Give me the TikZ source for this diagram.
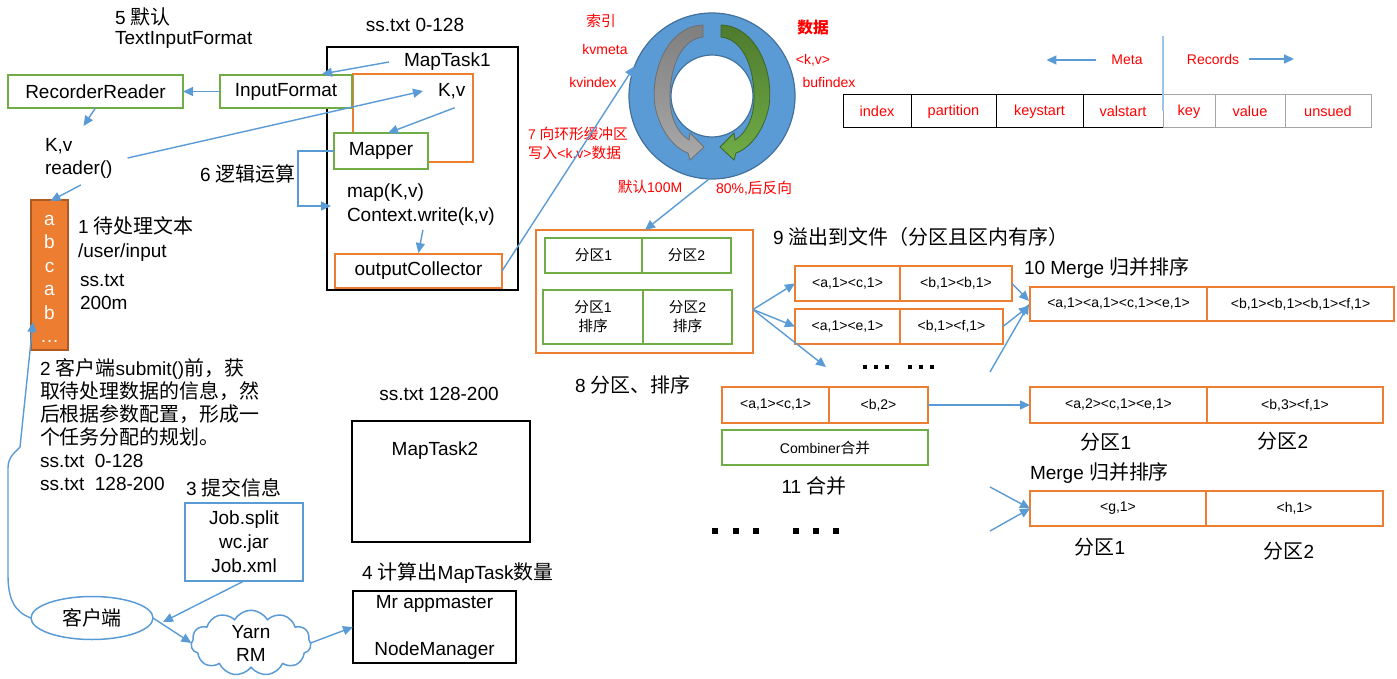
\documentclass[tikz,border=0pt]{standalone}
\usepackage{fontspec}
\setmainfont{Liberation Sans}
\newfontfamily\cjk[Scale=1.05]{Noto Sans CJK SC}
\newcommand\cj[1]{{\cjk #1}}
\usetikzlibrary{arrows.meta,shapes.geometric,shapes.symbols,calc}
\definecolor{ablue}{HTML}{5B9BD5}
\definecolor{ogreen}{HTML}{70AD47}
\definecolor{oorange}{HTML}{ED7D31}
\definecolor{colborder}{HTML}{AE5A21}
\definecolor{ringblue}{HTML}{5B9BD5}
\definecolor{ringedge}{HTML}{41719C}
\definecolor{garrtop}{HTML}{7F7F7F}
\definecolor{garrbot}{HTML}{A9A9A9}
\definecolor{garredge}{HTML}{6E6E6E}
\definecolor{grtop}{HTML}{4E7A2E}
\definecolor{grbot}{HTML}{70AD47}
\definecolor{gredge}{HTML}{3E6424}
\definecolor{vline}{HTML}{9DC3E6}
\tikzset{
 every node/.style={inner sep=0pt, outer sep=0pt},
 big/.style={font=\fontsize{19}{23}\selectfont},
 sm/.style={font=\fontsize{14}{19}\selectfont},
 redtxt/.style={text=red, font=\fontsize{14}{19}\selectfont},
 bx/.style={anchor=north west, line width=1.8pt, fill=white},
 gbox/.style={bx, draw=ogreen},
 obox/.style={bx, draw=oorange},
 kbox/.style={bx, draw=black},
 bbox/.style={bx, draw=ablue},
 arr/.style={draw=ablue, line width=1.4pt, -{Triangle[length=10pt,width=9pt]}},
 cellk/.style={anchor=north west, draw=black, line width=1pt, text=red, font=\fontsize{14.5}{17}\selectfont},
 cellg/.style={cellk, draw=gray!70},
}
\begin{document}
\begin{tikzpicture}[x=1pt,y=-1pt]
\useasboundingbox (0,0) rectangle (1397,679);

% ---------- MapTask1 ----------
\node[kbox, minimum width=191pt, minimum height=243pt] (mt1) at (327,47) {};
\node[big] (ss1) at (415,25) {ss.txt 0-128};
\node[big, anchor=west] (mt1l) at (404,62) {MapTask1};
\node[obox, minimum width=120pt, minimum height=88pt] (ob) at (353,74) {};
\node[big, anchor=west] (kv2) at (438,91) {K,v};
\node[gbox, big, minimum width=94pt, minimum height=36pt] (mapper) at (334,133) {Mapper};
\node[anchor=west, align=left, font=\fontsize{19}{24}\selectfont] (mapk) at (347,205) {map(K,v)\\Context.write(k,v)};
\node[obox, big, minimum width=167pt, minimum height=34pt] (oc) at (335,254) {outputCollector};

% ---------- left column ----------
\node[anchor=west, align=left, font=\fontsize{19}{20}\selectfont] (t5) at (115,28) {5 \cj{默认}\\TextInputFormat};
\node[gbox, big, minimum width=175pt, minimum height=33pt] (rr) at (8,75) {RecorderReader};
\node[gbox, big, minimum width=132pt, minimum height=33pt] (inf) at (220,75) {InputFormat};
\node[big, anchor=west, align=left] (kvr) at (45,158) {K,v\\reader()};
\node[big, anchor=west] (t6) at (200,174) {6 \cj{逻辑运算}};
\node[anchor=north west, draw=colborder, fill=oorange, line width=1.5pt, minimum width=37pt, minimum height=150pt] (col) at (31,200) {};
\node[text=white, align=center, font=\fontsize{19}{23.5}\selectfont] (colt) at (49.5,279) {a\\b\\c\\a\\b\\…};
\node[anchor=west, align=left, font=\fontsize{19}{24}\selectfont] (t1) at (78,239) {1 \cj{待处理文本}\\/user/input};
\node[anchor=west, align=left, font=\fontsize{19}{23}\selectfont] (t1b) at (80,292) {ss.txt\\200m};
\node[anchor=west, align=left, font=\fontsize{19}{23}\selectfont] (t2) at (40,425) {2 \cj{客户端}submit()\cj{前，获}\\\cj{取待处理数据的信息，然}\\\cj{后根据参数配置，形成一}\\\cj{个任务分配的规划。}\\ss.txt\ \ 0-128\\ss.txt\ \ 128-200};

% ---------- bottom left ----------
\node[big, anchor=west] (t3) at (186,488) {3 \cj{提交信息}};
\node[bbox, align=center, minimum width=118pt, minimum height=78pt, font=\fontsize{19}{24}\selectfont] (job) at (185,503) {Job.split\\wc.jar\\Job.xml};
\node[ellipse, draw=ablue, line width=1.5pt, minimum width=122pt, minimum height=43pt, big] (cli) at (92,618) {\cj{客户端}};
\node[cloud, cloud puffs=11, cloud puff arc=120, aspect=2, draw=ablue, line width=1.5pt, minimum width=120pt, minimum height=60pt, align=center, font=\fontsize{19}{23}\selectfont] (yarn) at (251,643) {Yarn\\RM};
\node[big, anchor=west] (t4) at (362,573) {4 \cj{计算出}MapTask\cj{数量}};
\node[kbox, minimum width=163pt, minimum height=72pt, align=center, font=\fontsize{19}{21}\selectfont] (am) at (353,591) {Mr appmaster\\[26pt]NodeManager};
\node[big] (ss2) at (439,394) {ss.txt 128-200};
\node[kbox, minimum width=178pt, minimum height=121pt] (mt2) at (352,421) {};
\node[big] (mt2l) at (435,451) {MapTask2};

% ---------- ring buffer ----------
\node[circle, draw=ringedge, line width=1.2pt, fill=ringblue, minimum size=166pt] (ring) at (712,96) {};
\node[circle, draw=ringedge, line width=1.2pt, fill=white, minimum size=82pt] (hole) at (712,96) {};
\begin{scope}[shift={(712,96)}]
\path[draw=garredge, line width=0.8pt, top color=garrtop, bottom color=garrbot]
 (-9,-71) .. controls (-44,-70) and (-62,-25) .. (-57,10) .. controls (-52,35) and (-38,52) .. (-24,57)
 -- (-22,64) -- (-8,51) -- (-22,37) -- (-23,44)
 .. controls (-36,36) and (-43,18) .. (-42,-2) .. controls (-41,-35) and (-28,-57) .. (-9,-59) -- cycle;
\end{scope}
\begin{scope}[shift={(712,96)}, xscale=-1]
\path[draw=gredge, line width=0.8pt, top color=grtop, bottom color=grbot]
 (-9,-71) .. controls (-44,-70) and (-62,-25) .. (-57,10) .. controls (-52,35) and (-38,52) .. (-24,57)
 -- (-22,64) -- (-8,51) -- (-22,37) -- (-23,44)
 .. controls (-36,36) and (-43,18) .. (-42,-2) .. controls (-41,-35) and (-28,-57) .. (-9,-59) -- cycle;
\end{scope}
\node[redtxt] (l1) at (601,21) {\cj{索引}};
\node[redtxt] (l2) at (605,49) {kvmeta};
\node[redtxt] (l3) at (593,82) {kvindex};
\node[text=red, font=\fontsize{15}{19}\selectfont\bfseries] (l4) at (813,28) {\cj{数据}};
\node[redtxt] (l5) at (813,60) {<k,v>};
\node[redtxt] (l6) at (829,82) {bufindex};
\node[redtxt, anchor=west, align=left] (l7) at (528,144) {7 \cj{向环形缓冲区}\\\cj{写入}<k,v>\cj{数据}};
\node[redtxt] (l8) at (650,187) {\cj{默认}100M};
\node[redtxt] (l9) at (754,188) {80\%,\cj{后反向}};

% ---------- meta / records ----------
\coordinate (vt) at (1163,36);
\coordinate (vb) at (1163,111);
\node[redtxt] (meta) at (1127,60) {Meta};
\node[redtxt] (rec) at (1213,59) {Records};
\node[cellk, minimum width=68pt, minimum height=33pt] (ci) at (843,95) {index};
\node[cellk, minimum width=85pt, minimum height=33pt] (cp) at (911,95) {partition};
\node[cellk, minimum width=87pt, minimum height=33pt] (cks) at (996,95) {keystart};
\node[cellk, minimum width=80pt, minimum height=33pt] (cvs) at (1083,95) {valstart};
\node[cellg, minimum width=52pt, minimum height=33pt] (ck) at (1163,95) {key};
\node[cellg, minimum width=70pt, minimum height=33pt] (cv) at (1215,95) {value};
\node[cellg, minimum width=86pt, minimum height=33pt] (cu) at (1285,95) {unsued};
\draw[draw=vline, line width=1.4pt] (vt) -- (vb);
\draw[arr] ($(meta.west)+(-15,0)$) -- ++(-50,0);
\draw[arr] ($(rec.east)+(10,0)$) -- ++(45,0);

% ---------- partitions ----------
\node[obox, minimum width=217pt, minimum height=123pt] (part) at (536,230) {};
\node[gbox, sm, minimum width=97pt, minimum height=35pt] (p1) at (545,238) {\cj{分区}1};
\node[gbox, sm, minimum width=89pt, minimum height=35pt] (p2) at (642,238) {\cj{分区}2};
\node[gbox, sm, align=center, minimum width=100pt, minimum height=54pt] (p1s) at (543,290) {\cj{分区}1\\\cj{排序}};
\node[gbox, sm, align=center, minimum width=89pt, minimum height=54pt] (p2s) at (643,290) {\cj{分区}2\\\cj{排序}};
\node[big, anchor=west] (t8) at (575,385) {8 \cj{分区、排序}};
\node[big, anchor=west] (t9) at (773,237) {9 \cj{溢出到文件（分区且区内有序）}};

\node[obox, sm, minimum width=105pt, minimum height=35pt] (s1a) at (795,266) {<a,1><c,1>};
\node[obox, sm, minimum width=112pt, minimum height=35pt] (s1b) at (900,266) {<b,1><b,1>};
\node[obox, sm, minimum width=105pt, minimum height=35pt] (s2a) at (795,309) {<a,1><e,1>};
\node[obox, sm, minimum width=103pt, minimum height=35pt] (s2b) at (900,309) {<b,1><f,1>};
\coordinate (d1) at (826,367);
\coordinate (d2) at (990,372);
\foreach \xx in {863,874,885,908,919,930} \fill (\xx,365) rectangle ++(4,4);

\node[obox, sm, minimum width=107pt, minimum height=36pt] (c1a) at (722,387) {<a,1><c,1>};
\node[obox, sm, minimum width=99pt, minimum height=36pt] (c1b) at (829,387) {<b,2>};
\node[gbox, sm, minimum width=206pt, minimum height=35pt] (comb) at (722,430) {Combiner\cj{合并}};
\node[big] (t11) at (814,486) {11 \cj{合并}};
\foreach \xx in {712,733,753,793,813,833} \fill (\xx,528) rectangle ++(6,6);

\node[big, anchor=west] (t10) at (1024,268) {10 Merge \cj{归并排序}};
\node[obox, sm, minimum width=177pt, minimum height=34pt] (m1a) at (1030,287) {<a,1><a,1><c,1><e,1>};
\node[obox, sm, minimum width=187pt, minimum height=34pt] (m1b) at (1207,287) {<b,1><b,1><b,1><f,1>};
\node[obox, sm, minimum width=177pt, minimum height=36pt] (m2a) at (1030,387) {<a,2><c,1><e,1>};
\node[obox, sm, minimum width=176pt, minimum height=36pt] (m2b) at (1207,387) {<b,3><f,1>};
\node[big] (fq1) at (1106,442) {\cj{分区}1};
\node[big] (fq2) at (1283,441) {\cj{分区}2};
\node[big, anchor=west] (tm) at (1030,473) {Merge \cj{归并排序}};
\node[obox, sm, minimum width=176pt, minimum height=35pt] (m3a) at (1030,491) {<g,1>};
\node[obox, sm, minimum width=177pt, minimum height=35pt] (m3b) at (1206,491) {<h,1>};
\node[big] (fq3) at (1100,547) {\cj{分区}1};
\node[big] (fq4) at (1289,551) {\cj{分区}2};
\coordinate (g1) at (990,487);
\coordinate (g2) at (990,531);

% ---------- connectors ----------
\draw[arr] ($(mt1l.west)+(-15,0)$) -- ($(inf.north east)+(-30,-1)$);
\draw[arr] (inf.west) -- (rr.east);
\draw[arr] (rr.south) -- ($(rr.south)+(-12,18)$);
\draw[arr] ($(kvr.east)+(15,0)$) -- ($(kv2.west)+(-15,0)$);
\draw[arr] ($(kvr.south)+(2,7)$) -- ($(col.north)+(1,1)$);
\draw[arr] ($(kv2.south)+(3,9)$) -- ($(mapper.north east)+(-40,0)$);
\draw[arr] (mapper.west) -- ++(-36,0) |- ($(mapk.west)+(-16,1)$);
\draw[arr] ($(mapk.south)+(2,4)$) -- ($(oc.north)+(0,-1)$);
\draw[arr] (oc.east) -- (ring.159);
\draw[arr] (ring.268) -- ($(part.north west)+(109,0)$);
\draw[arr] ($(part.east)+(0,18)$) -- (s1a.west);
\draw[arr] ($(part.east)+(0,18)$) -- (s2a.west);
\draw[arr] ($(part.east)+(0,18)$) -- (d1);
\draw[arr] (s1b.east) -- ($(m1a.west)+(-1,-3)$);
\draw[arr] (s2b.east) -- ($(m1a.west)+(-1,2)$);
\draw[arr] (d2) -- ($(m1a.west)+(-1,0)$);
\draw[arr] (c1b.east) -- (m2a.west);
\draw[arr] (g1) -- (m3a.west);
\draw[arr] (g2) -- (m3a.west);
\draw[arr] (job.south) -- ($(cli.east)+(10,4)$);
\draw[arr] (cli.east) -- (yarn.west);
\draw[arr] (yarn.east) -- (am.west);
\draw[arr] (cli.west) .. controls (14,612) and (8,598) .. (8,575) -- (8,468) .. controls (8,456) and (16,452) .. (20,447) -- ($(col.south west)+(2,-28)$);
\end{tikzpicture}
\end{document}
